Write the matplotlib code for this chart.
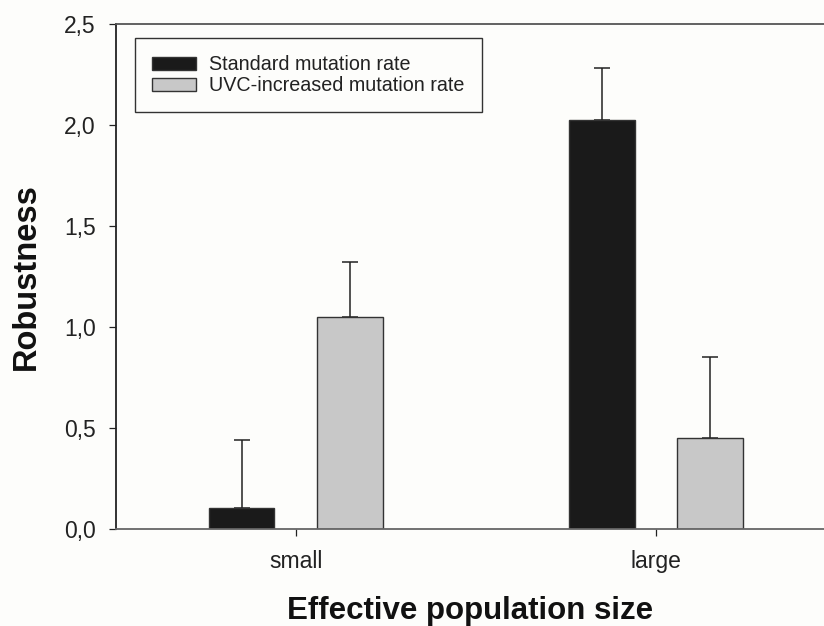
import numpy as np
import matplotlib
matplotlib.use("Agg")
import matplotlib.pyplot as plt

plt.rcParams['font.family'] = ['Liberation Sans', 'DejaVu Sans']

# data
categories = ['small', 'large']
series_names = ['Standard mutation rate', 'UVC-increased mutation rate']
standard = [0.104, 2.023]
standard_err = [0.335, 0.261]
uvc = [1.051, 0.449]
uvc_err = [0.268, 0.401]
yticks = [0.0, 0.5, 1.0, 1.5, 2.0, 2.5]
ytick_labels = ['0,0', '0,5', '1,0', '1,5', '2,0', '2,5']

bg = '#fdfdfb'
fig = plt.figure(figsize=(8.24, 6.26), dpi=100, facecolor=bg)
ax = fig.add_axes([0.1402, 0.1554, 0.8598, 0.8063], facecolor=bg)

x = np.arange(len(categories))
w = 0.182
off = 0.150

ax.bar(x - off, standard, w, color='#1a1a1a', edgecolor='#333333', linewidth=1.0,
       label=series_names[0], zorder=2)
ax.bar(x + off, uvc, w, color='#c8c8c8', edgecolor='#333333', linewidth=1.0,
       label=series_names[1], zorder=2)

# upper error bars only
ax.errorbar(x - off, standard, yerr=[np.zeros(len(x)), standard_err], fmt='none',
            ecolor='#222222', elinewidth=1.1, capsize=5.5, capthick=1.1, zorder=1)
ax.errorbar(x + off, uvc, yerr=[np.zeros(len(x)), uvc_err], fmt='none',
            ecolor='#222222', elinewidth=1.1, capsize=5.5, capthick=1.1, zorder=1)

ax.set_xlim(-0.5, 1.466)
ax.set_ylim(0, 2.5)

ax.set_yticks(yticks)
ax.set_yticklabels(ytick_labels)
ax.set_xticks(x)
ax.set_xticklabels(categories)

ax.tick_params(axis='y', direction='out', length=5.4, width=0.9, pad=9, labelsize=16.5,
               color='#222222', labelcolor='#222222')
ax.tick_params(axis='x', direction='out', length=5, width=0.9, pad=10, labelsize=16.5,
               color='#222222', labelcolor='#222222')

ax.spines['right'].set_visible(False)
ax.spines['left'].set_color('#222222')
ax.spines['left'].set_linewidth(1.3)
ax.spines['top'].set_color('#555555')
ax.spines['top'].set_linewidth(1.3)
ax.spines['bottom'].set_color('#666666')
ax.spines['bottom'].set_linewidth(1.3)

ax.set_ylabel('Robustness', fontsize=23.5, fontweight='bold', labelpad=16, color='#111111')
ax.set_xlabel('Effective population size', fontsize=22.5, fontweight='bold', labelpad=17,
              color='#111111')

leg = ax.legend(loc='upper left', bbox_to_anchor=(0.027, 0.973), fontsize=14.2,
                frameon=True, fancybox=False, edgecolor='#333333', framealpha=1,
                handlelength=2.23, handleheight=0.64, handletextpad=0.68,
                labelspacing=0.11, borderpad=0.88, borderaxespad=0)
leg.get_frame().set_linewidth(1.0)
leg.get_frame().set_facecolor(bg)
for t in leg.get_texts():
    t.set_color('#222222')

fig.savefig('out.png', dpi=100, facecolor=bg)
